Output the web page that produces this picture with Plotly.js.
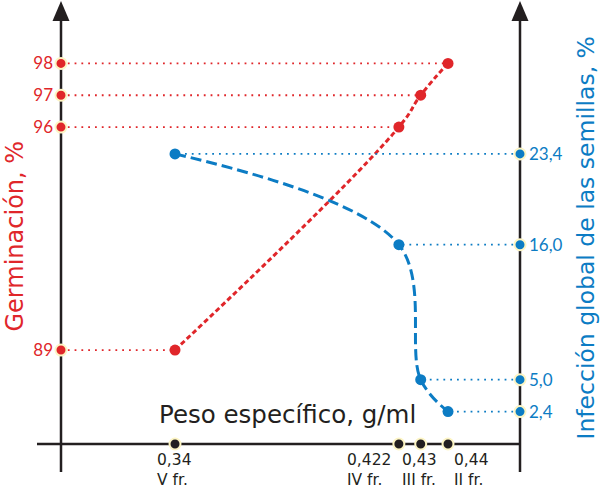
<!DOCTYPE html>
<html>
<head>
<meta charset="utf-8">
<script src="https://cdn.plot.ly/plotly-3.0.1.min.js"></script>
<style>html,body{margin:0;padding:0;background:#fff;}#chart{width:600px;height:495px;}</style>
</head>
<body>
<div id="chart"></div>
<script>
// ---- data ----
const pesos = [0.34, 0.422, 0.43, 0.44];
const pesoLabels = ["0,34", "0,422", "0,43", "0,44"];
const fracciones = ["V fr.", "IV fr.", "III fr.", "II fr."];
const germinacion = [89, 96, 97, 98];
const germLabels = ["89", "96", "97", "98"];
const infeccion = [23.4, 16.0, 5.0, 2.4];
const infeccionLabels = ["23,4", "16,0", "5,0", "2,4"];

// ---- styles ----
const RED = "#e0262a";
const BLUE = "#0c7cc4";
const INK = "#231f20";
const HALO = "#fdf5c4";
const FONT_T = "'DejaVu Sans', sans-serif";
const FONT_N = "Lato, 'DejaVu Sans', sans-serif";

const xRange = [0.29824, 0.46637];
const yRange = [86.05, 99.99];
const y2Range = [-0.24, 35.94];
const xL = xRange[0], xR = xRange[1], yB = yRange[0];

function connectors(xs, ys, xEdge) {
  const X = [], Y = [];
  xs.forEach((x, i) => { X.push(xEdge, x, null); Y.push(ys[i], ys[i], null); });
  return {X, Y};
}
const cRed = connectors(pesos, germinacion, xL);
const cBlue = connectors(pesos, infeccion, xR);

const traces = [
  {x: cRed.X, y: cRed.Y, mode: "lines", line: {color: RED, width: 1.8, dash: "1.8px,5px"}, hoverinfo: "skip", cliponaxis: false},
  {x: cBlue.X, y: cBlue.Y, yaxis: "y2", mode: "lines", line: {color: BLUE, width: 1.8, dash: "1.8px,5px"}, hoverinfo: "skip", cliponaxis: false},
  {x: pesos, y: germinacion, mode: "lines+markers", line: {color: RED, width: 3, dash: "5px,3px", shape: "spline", smoothing: 1.3}, marker: {color: RED, size: 11}, cliponaxis: false},
  {x: pesos, y: infeccion, yaxis: "y2", mode: "lines+markers", line: {color: BLUE, width: 3, dash: "11px,5px", shape: "spline", smoothing: 1}, marker: {color: BLUE, size: 11}, cliponaxis: false},
  {x: germinacion.map(() => xL), y: germinacion, mode: "markers", marker: {color: RED, size: 11, line: {color: HALO, width: 2}}, cliponaxis: false},
  {x: infeccion.map(() => xR), y: infeccion, yaxis: "y2", mode: "markers", marker: {color: BLUE, size: 11, line: {color: HALO, width: 2}}, cliponaxis: false},
  {x: pesos, y: pesos.map(() => yB), mode: "markers", marker: {color: INK, size: 11, line: {color: HALO, width: 2}}, cliponaxis: false}
];

const shiftsX = [-20, -54, -21, 4];
const annotations = pesos.map((p, i) => ({
  x: p, xref: "x", y: 0, yref: "paper", xanchor: "left", yanchor: "top", align: "left",
  xshift: shiftsX[i], yshift: -5, showarrow: false,
  text: pesoLabels[i] + "<br>" + fracciones[i], font: {family: FONT_T, size: 15.5, color: INK}
}));
annotations.push(
  {x: -0.1013, y: 0.4685, xref: "paper", yref: "paper", xanchor: "center", yanchor: "middle", textangle: -90, showarrow: false,
   text: "Germinación, %", font: {family: FONT_T, size: 24, color: RED}},
  {x: 1.1427, y: 0.464, xref: "paper", yref: "paper", xanchor: "center", yanchor: "middle", textangle: -90, showarrow: false,
   text: "Infección global de las semillas, %", font: {family: FONT_T, size: 23.5, color: BLUE}},
  {x: 0.4935, y: 0.0664, xref: "paper", yref: "paper", xanchor: "center", yanchor: "middle", showarrow: false,
   text: "Peso específico, g/ml", font: {family: FONT_T, size: 24.5, color: INK}}
);

const axisLine = {color: INK, width: 2.5};
const shapes = [
  {type: "line", xref: "paper", yref: "paper", x0: 0, x1: 0, y0: -0.0631, y1: 0.97, line: axisLine, layer: "below"},
  {type: "line", xref: "paper", yref: "paper", x0: 1, x1: 1, y0: -0.0631, y1: 0.97, line: axisLine, layer: "below"},
  {type: "line", xref: "paper", yref: "paper", x0: -0.0523, x1: 1, y0: 0, y1: 0, line: axisLine, layer: "below"},
  {type: "path", xref: "paper", yref: "paper", xsizemode: "pixel", ysizemode: "pixel", xanchor: 0, yanchor: 1,
   path: "M -8.5 -21 L 8.5 -21 L 0 -1 Z", fillcolor: INK, line: {width: 0}},
  {type: "path", xref: "paper", yref: "paper", xsizemode: "pixel", ysizemode: "pixel", xanchor: 1, yanchor: 1,
   path: "M -8.5 -21 L 8.5 -21 L 0 -1 Z", fillcolor: INK, line: {width: 0}}
];

const layout = {
  width: 600, height: 495,
  margin: {l: 61, r: 80, t: 0, b: 51},
  paper_bgcolor: "#fff", plot_bgcolor: "rgba(0,0,0,0)",
  showlegend: false,
  font: {family: FONT_N},
  xaxis: {range: xRange, showgrid: false, zeroline: false, showline: false, showticklabels: false, ticks: ""},
  yaxis: {range: yRange, showgrid: false, zeroline: false, showline: false, ticks: "",
          tickmode: "array", tickvals: germinacion, ticktext: germLabels, ticklabelstandoff: 7,
          tickfont: {family: FONT_N, size: 17, color: RED}},
  yaxis2: {range: y2Range, overlaying: "y", side: "right", showgrid: false, zeroline: false, showline: false, ticks: "",
           tickmode: "array", tickvals: infeccion, ticktext: infeccionLabels, ticklabelstandoff: 8,
           tickfont: {family: FONT_N, size: 17, color: BLUE}},
  annotations: annotations,
  shapes: shapes
};

Plotly.newPlot("chart", traces, layout, {displayModeBar: false, staticPlot: true});
</script>
</body>
</html>
